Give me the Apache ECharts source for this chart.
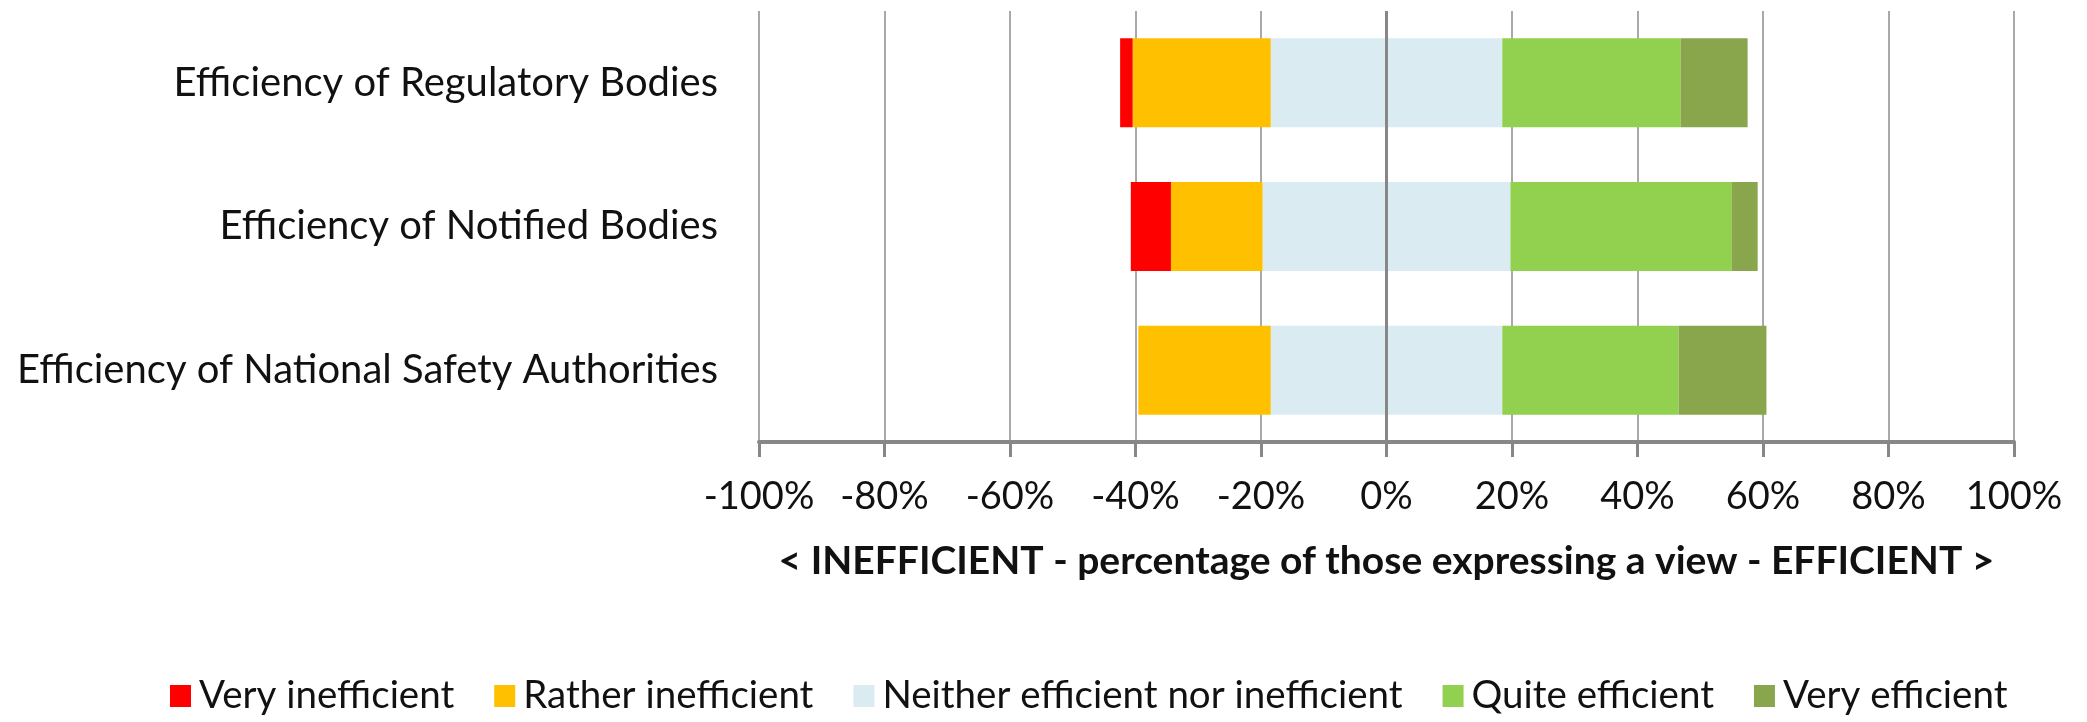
<!DOCTYPE html>
<html>
<head>
<meta charset="utf-8">
<script src="https://cdn.jsdelivr.net/npm/echarts@6/dist/echarts.min.js"></script>
<style>
  html, body { margin: 0; padding: 0; background: #ffffff; }
  #chart { width: 2087px; height: 722px; }
</style>
</head>
<body>
<div id="chart"></div>
<script>
// ---- data (percent of those expressing a view) ----
const categories = [
  'Efficiency of Regulatory Bodies',
  'Efficiency of Notified Bodies',
  'Efficiency of National Safety Authorities'
];
const veryInefficient   = [2.0, 6.4, 0];
const ratherInefficient = [22.0, 14.6, 21.1];
const neither           = [36.9, 39.5, 36.9];
const quiteEfficient    = [28.4, 35.3, 28.1];
const veryEfficient     = [10.7, 4.1, 14.0];
const tickValues = [-100, -80, -60, -40, -20, 0, 20, 40, 60, 80, 100];
const legendNames = ['Very inefficient', 'Rather inefficient', 'Neither efficient nor inefficient', 'Quite efficient', 'Very efficient'];
const axisTitle = '< INEFFICIENT - percentage of those expressing a view - EFFICIENT >';

const colors = {
  'Very inefficient': '#FF0000',
  'Rather inefficient': '#FFC000',
  'Neither efficient nor inefficient': '#DAECF2',
  'Quite efficient': '#92D050',
  'Very efficient': '#8AA64C'
};

const FONT = 'Lato, "Open Sans", sans-serif';
const grey = '#878787';

function bar(name, data) {
  return {
    name: name,
    type: 'bar',
    stack: 'total',
    barWidth: '62%',
    itemStyle: { color: colors[name] },
    data: data
  };
}

const neitherLeft = neither.map(v => -v / 2);
const neitherRight = neither.map(v => v / 2);

const series = [
  bar('Neither efficient nor inefficient', neitherLeft),
  bar('Rather inefficient', ratherInefficient.map(v => -v)),
  bar('Very inefficient', veryInefficient.map(v => -v)),
  bar('Neither efficient nor inefficient', neitherRight),
  bar('Quite efficient', quiteEfficient),
  bar('Very efficient', veryEfficient)
];
series[0].markLine = {
  silent: true,
  symbol: 'none',
  label: { show: false },
  lineStyle: { color: grey, width: 3, type: 'solid' },
  z: 10,
  data: [{ xAxis: 0 }]
};

const chart = echarts.init(document.getElementById('chart'), null, { renderer: 'canvas' });
chart.setOption({
  animation: false,
  backgroundColor: '#ffffff',
  textStyle: { fontFamily: FONT },
  grid: { left: 759, right: 73, top: 11, bottom: 280, containLabel: false },
  legend: {
    data: legendNames,
    left: 170,
    top: 675,
    padding: 0,
    icon: 'rect',
    itemWidth: 21,
    itemHeight: 22,
    itemGap: 40,
    textStyle: { fontFamily: FONT, fontSize: 38.5, color: '#111', lineHeight: 42, padding: [0, 0, 0, 3] }
  },
  xAxis: {
    type: 'value',
    min: tickValues[0],
    max: tickValues[tickValues.length - 1],
    interval: 20,
    axisLine: { show: true, lineStyle: { color: grey, width: 4 } },
    axisTick: { show: true, length: 15, lineStyle: { color: grey, width: 3 } },
    axisLabel: { formatter: '{value}%', fontFamily: FONT, fontSize: 38, color: '#111', margin: 36 },
    splitLine: { show: true, lineStyle: { color: '#8C8C8C', width: 1.5 } },
    name: axisTitle,
    nameLocation: 'middle',
    nameGap: 100,
    nameTextStyle: { fontFamily: FONT, fontSize: 39, fontWeight: 'bold', color: '#111' }
  },
  yAxis: {
    type: 'category',
    data: categories,
    inverse: true,
    axisLine: { show: false, onZero: false },
    axisTick: { show: false },
    splitLine: { show: false },
    axisLabel: { fontFamily: FONT, fontSize: 40, color: '#111', margin: 41 }
  },
  series: series
});
</script>
</body>
</html>
